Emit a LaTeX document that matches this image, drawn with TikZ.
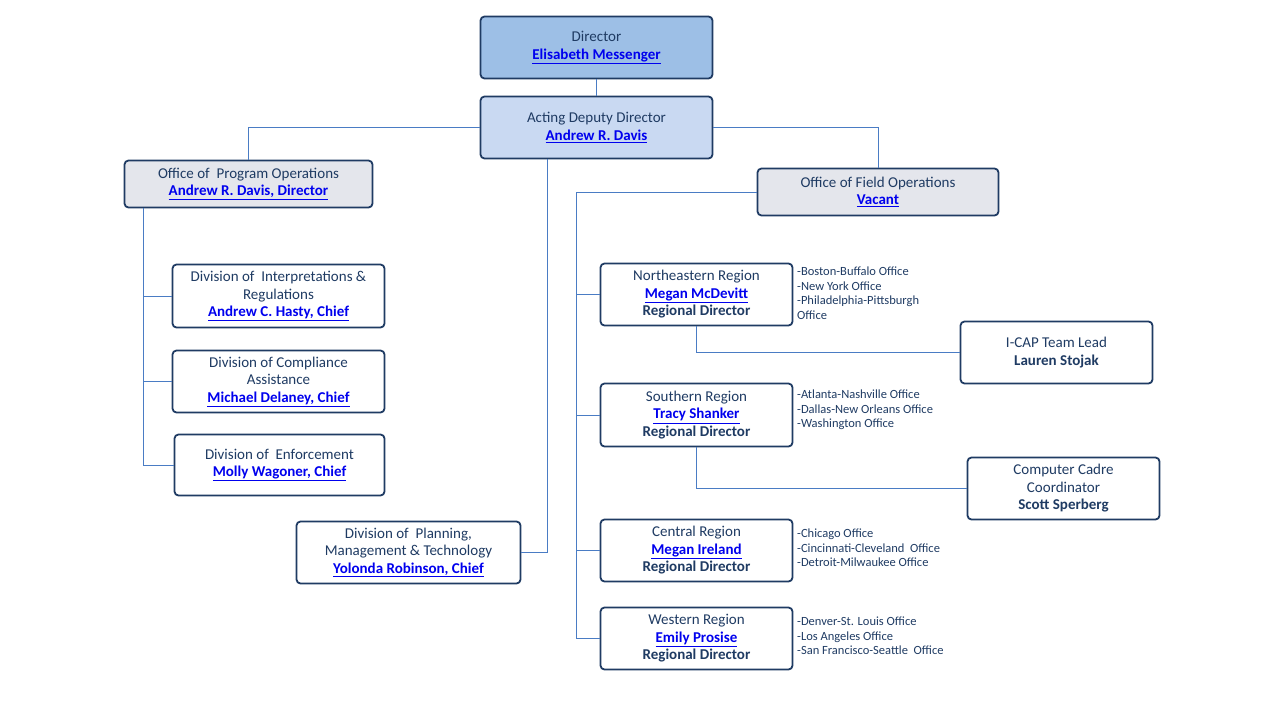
\documentclass[tikz,border=0pt]{standalone}
\usepackage{fontspec}
\setmainfont{Carlito}
\usetikzlibrary{positioning}
\definecolor{navy}{HTML}{1F3B63}
\definecolor{wire}{HTML}{4A7CC4}
\definecolor{topblue}{HTML}{9DBFE6}
\definecolor{deputyblue}{HTML}{C9D9F2}
\definecolor{officegray}{HTML}{E4E6EC}
\definecolor{namelink}{HTML}{0000EE}
\newcommand{\lnk}[1]{{\bfseries\color{namelink}\underline{#1}}}
\tikzset{
  unit/.style={draw=navy, line width=1.8pt, rounded corners=4pt, align=center,
    text=navy, font=\fontsize{15}{17.5}\selectfont, inner sep=2pt},
  link/.style={draw=wire, line width=0.7pt},
  offices/.style={anchor=north west, align=left, text=navy,
    font=\fontsize{12.5}{14.5}\selectfont, inner sep=0pt}
}
\begin{document}
\begin{tikzpicture}[x=1pt,y=-1pt]
  \useasboundingbox (0,0) rectangle (1280,720);
  % top
  \node[unit, fill=topblue, minimum width=232, minimum height=62] (dir) at (596.5,47.5)
    {Director\\\lnk{Elisabeth Messenger}};
  \node[unit, fill=deputyblue, minimum width=232, minimum height=62] (dep) at (596.5,127.5)
    {Acting Deputy Director\\\lnk{Andrew R. Davis}};
  % offices
  \node[unit, fill=officegray, minimum width=248, minimum height=47] (opo) at (248.5,184)
    {Office of\ \ Program Operations\\\lnk{Andrew R. Davis, Director}};
  \node[unit, fill=officegray, minimum width=241, minimum height=47] (ofo) at (878,192)
    {Office of Field Operations\\\lnk{Vacant}};
  % divisions
  \node[unit, fill=white, minimum width=212, minimum height=63] (interp) at (278.5,296)
    {Division of\ \ Interpretations \&\\Regulations\\\lnk{Andrew C. Hasty, Chief}};
  \node[unit, fill=white, minimum width=212, minimum height=62] (comp) at (278.5,381.5)
    {Division of Compliance\\Assistance\\\lnk{Michael Delaney, Chief}};
  \node[unit, fill=white, minimum width=210, minimum height=61] (enf) at (279.5,465)
    {Division of\ \ Enforcement\\\lnk{Molly Wagoner, Chief}};
  \node[unit, fill=white, minimum width=224, minimum height=62] (plan) at (408.5,552.5)
    {Division of\ \ Planning,\\Management \& Technology\\\lnk{Yolonda Robinson, Chief}};
  % regions
  \node[unit, fill=white, minimum width=192, minimum height=62] (ne) at (696.5,294.5)
    {Northeastern Region\\\lnk{Megan McDevitt}\\\textbf{Regional Director}};
  \node[unit, fill=white, minimum width=192, minimum height=63] (so) at (696.5,415)
    {Southern Region\\\lnk{Tracy Shanker}\\\textbf{Regional Director}};
  \node[unit, fill=white, minimum width=192, minimum height=62] (ce) at (696.5,550.5)
    {Central Region\\\lnk{Megan Ireland}\\\textbf{Regional Director}};
  \node[unit, fill=white, minimum width=192, minimum height=62] (we) at (696.5,638.5)
    {Western Region\\\lnk{Emily Prosise}\\\textbf{Regional Director}};
  % leads
  \node[unit, fill=white, minimum width=192, minimum height=62] (icap) at (1056.5,352.5)
    {I-CAP Team Lead\\\textbf{Lauren Stojak}};
  \node[unit, fill=white, minimum width=192, minimum height=62] (cadre) at (1063.5,488.5)
    {Computer Cadre\\Coordinator\\\textbf{Scott Sperberg}};
  % field office lists
  \node[offices] (nelist) at (797,267) {-Boston-Buffalo Office\\-New York Office\\-Philadelphia-Pittsburgh\\Office};
  \node[offices] (solist) at (797,390) {-Atlanta-Nashville Office\\-Dallas-New Orleans Office\\-Washington Office};
  \node[offices] (celist) at (797,529) {-Chicago Office\\-Cincinnati-Cleveland\ \ Office\\-Detroit-Milwaukee Office};
  \node[offices] (welist) at (797,617) {-Denver-St. Louis Office\\-Los Angeles Office\\-San Francisco-Seattle\ \ Office};
  % connectors
  \coordinate (po) at (143,208);
  \coordinate (fo) at (576,192);
  \coordinate (dp) at (547,159);
  \draw[link] (dir.south) -- (dep.north);
  \draw[link] (dep.west) -| (opo.north);
  \draw[link] (dep.east) -| (ofo.north);
  \draw[link] (dp) |- (plan.east);
  \draw[link] (po) |- (interp.west);
  \draw[link] (po) |- (comp.west);
  \draw[link] (po) |- (enf.west);
  \draw[link] (ofo.west) -- (fo) |- (we.west);
  \draw[link] (fo) |- (ne.west);
  \draw[link] (fo) |- (so.west);
  \draw[link] (fo) |- (ce.west);
  \draw[link] (ne.south) |- (icap.west);
  \draw[link] (so.south) |- (cadre.west);
\end{tikzpicture}
\end{document}
